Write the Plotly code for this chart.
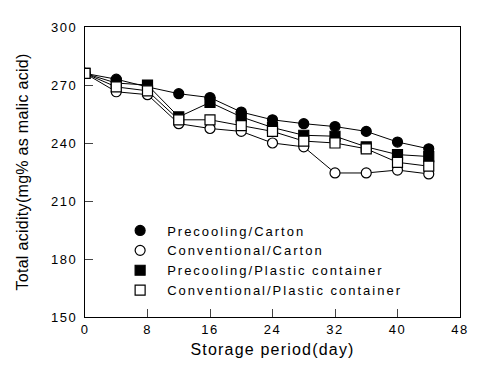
import plotly.graph_objects as go

days = [0, 4, 8, 12, 16, 20, 24, 28, 32, 36, 40, 44]
pre_carton = [276, 273, 269, 265.5, 263.5, 256, 252, 250, 248.5, 246, 240.5, 237]
conv_carton = [276, 266.5, 265, 250, 247.5, 246, 240, 238, 224.5, 224.5, 226, 224]
pre_plastic = [276, 271, 270, 253.5, 261, 253.5, 248, 244, 243.5, 238, 234, 233]
conv_plastic = [276, 269, 267, 252, 252, 249, 246, 241, 240, 237, 230, 228]
names = ["Precooling/Carton", "Conventional/Carton",
         "Precooling/Plastic container", "Conventional/Plastic container"]
xticks = [0, 8, 16, 24, 32, 40, 48]
yticks = [150, 180, 210, 240, 270, 300]

series = [pre_carton, conv_carton, pre_plastic, conv_plastic]
symbols = ["circle", "circle", "square", "square"]
fills = ["black", "white", "black", "white"]

fig = go.Figure()
for vals, nm, sym, fc in zip(series, names, symbols, fills):
    mk = dict(symbol=sym, size=10, color=fc, line=dict(color="black", width=1.2))
    fig.add_trace(go.Scatter(
        x=days, y=vals, name=nm, mode="lines+markers", showlegend=False,
        line=dict(color="black", width=1), marker=mk,
    ))
for nm, sym, fc in zip(names, symbols, fills):
    fig.add_trace(go.Scatter(
        x=[None], y=[None], name=nm, mode="markers",
        marker=dict(symbol=sym, size=10, color=fc, line=dict(color="black", width=1.2)),
    ))

fig.update_layout(
    width=478, height=367,
    margin=dict(l=85, r=11, t=27, b=49),
    paper_bgcolor="white", plot_bgcolor="white",
    font=dict(family="Liberation Sans, Arial", size=13, color="black"),
    legend=dict(x=0.075, y=0.35, xanchor="left", yanchor="top",
                bgcolor="rgba(0,0,0,0)", font=dict(size=13), tracegroupgap=0,
                itemwidth=44),
    xaxis=dict(range=[0, 48], tickvals=xticks, ticks="inside", ticklen=8,
               showline=True, linecolor="black", linewidth=1.2, mirror=True,
               showgrid=False, zeroline=False, tickfont=dict(size=13),
               title=dict(text="Storage period(day)", standoff=8)),
    yaxis=dict(range=[150, 300], tickvals=yticks, ticks="inside", ticklen=8,
               showline=True, linecolor="black", linewidth=1.2, mirror=True,
               showgrid=False, zeroline=False, tickfont=dict(size=13),
               ticklabelstandoff=4,
               title=dict(text="Total acidity(mg% as malic acid)", standoff=22)),
)
css = ("<style>.legendtext{letter-spacing:2px}"
       ".legend .scrollbox{clip-path:none !important}"
       ".xtitle{letter-spacing:1.2px}"
       ".xtick text,.ytick text{letter-spacing:1.5px}"
       ".ytitle{letter-spacing:0.3px}</style>")
fig.write_html("out.html",
               post_script="document.head.insertAdjacentHTML('beforeend', '%s');" % css)
